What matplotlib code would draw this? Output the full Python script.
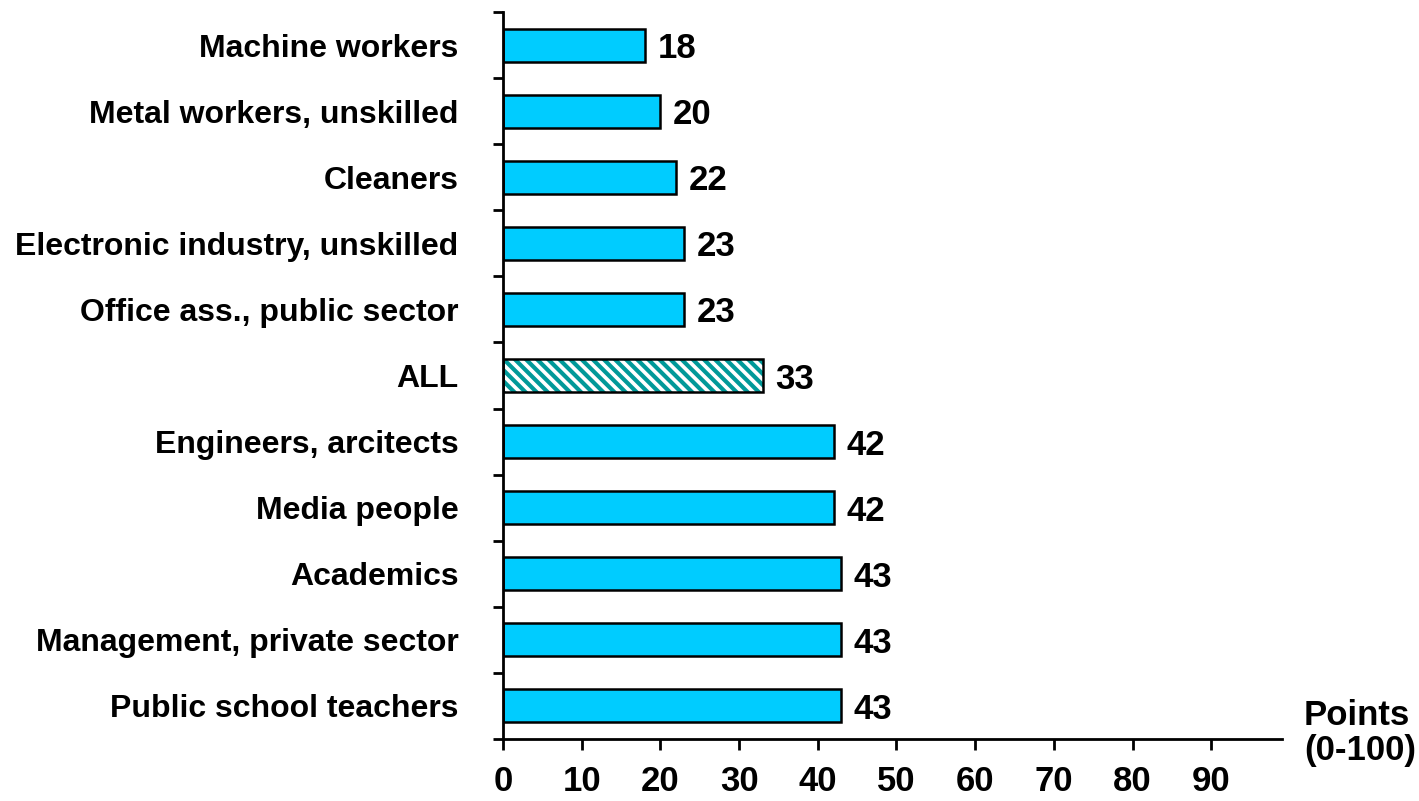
import matplotlib.pyplot as plt

plt.rcParams['font.family'] = ['Liberation Sans', 'DejaVu Sans']
plt.rcParams['font.weight'] = 'bold'
plt.rcParams['hatch.linewidth'] = 3.0

occupations = [
    "Machine workers",
    "Metal workers, unskilled",
    "Cleaners",
    "Electronic industry, unskilled",
    "Office ass., public sector",
    "ALL",
    "Engineers, arcitects",
    "Media people",
    "Academics",
    "Management, private sector",
    "Public school teachers",
]
points = [18, 20, 22, 23, 23, 33, 42, 42, 43, 43, 43]
xticks = [0, 10, 20, 30, 40, 50, 60, 70, 80, 90]


def main():
    fig = plt.figure(figsize=(14.19, 8.01), dpi=100)
    ax = fig.add_axes([0.3545, 0.0774, 0.549, 0.9076])

    ypos = list(range(len(occupations)))
    for y, name, val in zip(ypos, occupations, points):
        if name == "ALL":
            # hatch takes the edge colour, so draw the outline separately
            ax.barh(y, val, height=0.5, color='white', edgecolor='#009999',
                    hatch='\\\\\\', linewidth=0)
            ax.barh(y, val, height=0.5, fill=False, edgecolor='black',
                    linewidth=1.8)
        else:
            ax.barh(y, val, height=0.5, color='#00CCFF', edgecolor='black',
                    linewidth=1.8)
        ax.text(val + 1.6, y, str(val), va='center_baseline', ha='left',
                fontsize=25, fontweight='bold')

    ax.set_xlim(0, 99)
    ax.set_ylim(len(occupations) - 0.5, -0.5)

    # category labels sit at bar centres, ticks at the boundaries between them
    ax.set_yticks(ypos)
    ax.set_yticklabels(occupations, fontsize=23, fontweight='bold')
    ax.tick_params(axis='y', which='major', length=0, pad=32)
    ax.set_yticks([y - 0.5 for y in ypos] + [len(ypos) - 0.5], minor=True)
    ax.tick_params(axis='y', which='minor', length=7, width=2, direction='out')

    ax.set_xticks(xticks)
    ax.set_xticklabels([str(t) for t in xticks], fontsize=25, fontweight='bold')
    ax.tick_params(axis='x', length=8, width=2, direction='out', pad=11)

    for side in ['top', 'right']:
        ax.spines[side].set_visible(False)
    ax.spines['left'].set_linewidth(2)
    ax.spines['bottom'].set_linewidth(2)

    fig.text(0.919, 0.085, "Points\n(0-100)", fontsize=25, fontweight='bold',
             ha='left', va='center', linespacing=1.1)

    fig.savefig('out.png', dpi=100)


if __name__ == "__main__":
    main()
